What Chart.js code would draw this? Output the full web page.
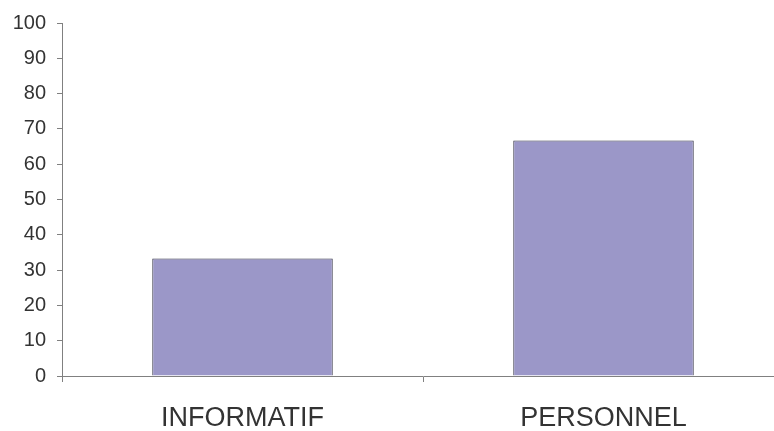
<!DOCTYPE html>
<html>
<head>
<meta charset="utf-8">
<script src="https://cdn.jsdelivr.net/npm/chart.js@4/dist/chart.umd.min.js"></script>
<style>
  html, body { margin: 0; padding: 0; background: #fff; overflow: hidden; }
</style>
</head>
<body>
<canvas id="chart" width="790" height="431"></canvas>
<script>
// données du graphique
var categories = ['INFORMATIF', 'PERSONNEL'];
var values = [33.3, 66.7];
var yMin = 0;
var yMax = 100;
var yStep = 10;

var axisColor = '#808080';
var textColor = '#333333';

var ctx = document.getElementById('chart').getContext('2d');

var chart = new Chart(ctx, {
    type: 'bar',
    data: {
        labels: categories,
        datasets: [{
            data: values,
            backgroundColor: '#9b97c8',
            borderColor: '#333344',
            borderWidth: 1,
            categoryPercentage: 1.0,
            barPercentage: 0.5
        }]
    },
    options: {
        responsive: false,
        animation: false,
        layout: {
            padding: { top: 22, right: 6, left: 0, bottom: 0 }
        },
        plugins: {
            legend: { display: false },
            tooltip: { enabled: false }
        },
        scales: {
            x: {
                grid: {
                    offset: true,
                    drawOnChartArea: false,
                    tickLength: 6,
                    color: axisColor
                },
                border: { color: axisColor, width: 1 },
                ticks: {
                    color: textColor,
                    font: { family: 'Liberation Sans, Arial, sans-serif', size: 27 },
                    padding: 20,
                    maxRotation: 0,
                    autoSkip: false
                },
                afterFit: function (scale) {
                    scale.height = 55; // axe x à y=376
                }
            },
            y: {
                min: yMin,
                max: yMax,
                grid: {
                    drawOnChartArea: false,
                    tickLength: 5,
                    color: axisColor
                },
                border: { color: axisColor, width: 1 },
                ticks: {
                    stepSize: yStep,
                    color: textColor,
                    font: { family: 'Liberation Sans, Arial, sans-serif', size: 20 },
                    padding: 11
                },
                afterFit: function (scale) {
                    scale.width = 62; // axe y à x=62
                }
            }
        }
    }
});
</script>
</body>
</html>
